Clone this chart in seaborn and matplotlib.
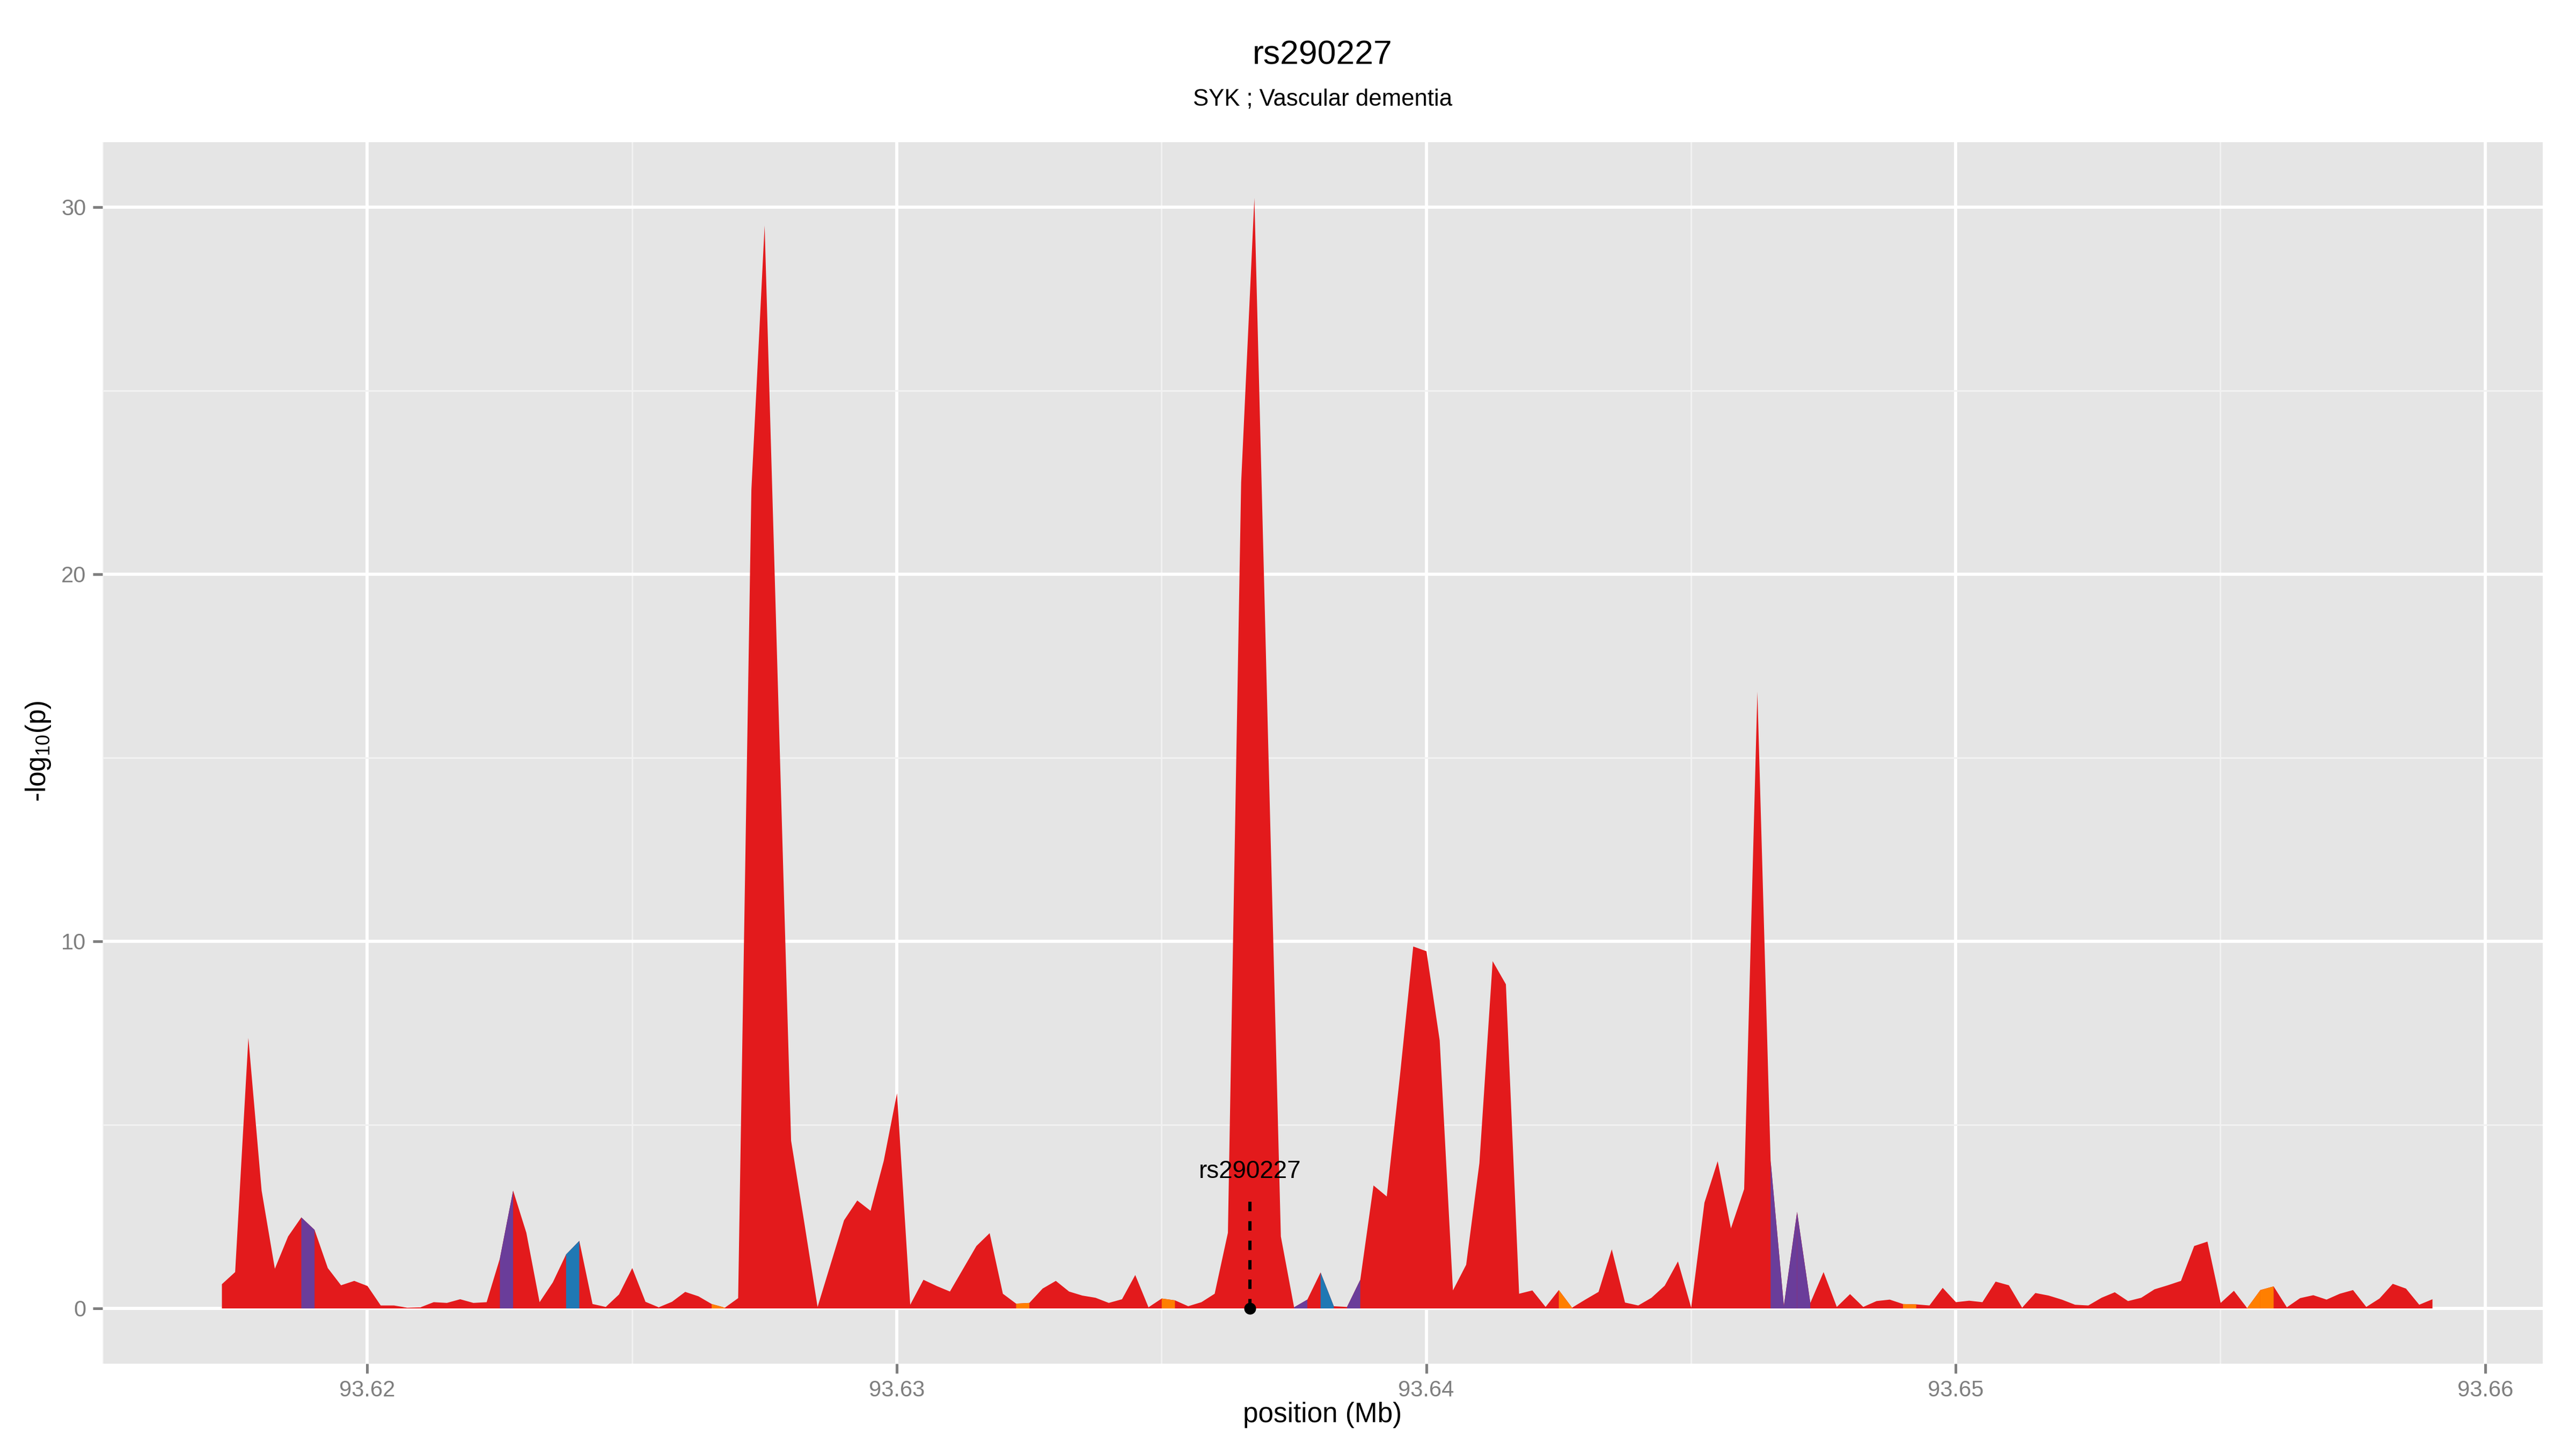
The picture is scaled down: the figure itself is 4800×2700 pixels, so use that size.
import numpy as np
import pandas as pd
import matplotlib
matplotlib.use("Agg")
import matplotlib.pyplot as plt
import seaborn as sns

# ---------------- data ----------------
positions_bp = [
    93617250, 93617500, 93617750,
    93618000, 93618250, 93618500, 93618750,
    93619000, 93619250, 93619500, 93619750,
    93620000, 93620250, 93620500, 93620750,
    93621000, 93621250, 93621500, 93621750,
    93622000, 93622250, 93622500, 93622750,
    93623000, 93623250, 93623500, 93623750,
    93624000, 93624250, 93624500, 93624750,
    93625000, 93625250, 93625500, 93625750,
    93626000, 93626250, 93626500, 93626750,
    93627000, 93627250, 93627500, 93627750,
    93628000, 93628250, 93628500, 93628750,
    93629000, 93629250, 93629500, 93629750,
    93630000, 93630250, 93630500, 93630750,
    93631000, 93631250, 93631500, 93631750,
    93632000, 93632250, 93632500, 93632750,
    93633000, 93633250, 93633500, 93633750,
    93634000, 93634250, 93634500, 93634750,
    93635000, 93635250, 93635500, 93635750,
    93636000, 93636250, 93636500, 93636750,
    93637000, 93637250, 93637500, 93637750,
    93638000, 93638250, 93638500, 93638750,
    93639000, 93639250, 93639500, 93639750,
    93640000, 93640250, 93640500, 93640750,
    93641000, 93641250, 93641500, 93641750,
    93642000, 93642250, 93642500, 93642750,
    93643000, 93643250, 93643500, 93643750,
    93644000, 93644250, 93644500, 93644750,
    93645000, 93645250, 93645500, 93645750,
    93646000, 93646250, 93646500, 93646750,
    93647000, 93647250, 93647500, 93647750,
    93648000, 93648250, 93648500, 93648750,
    93649000, 93649250, 93649500, 93649750,
    93650000, 93650250, 93650500, 93650750,
    93651000, 93651250, 93651500, 93651750,
    93652000, 93652250, 93652500, 93652750,
    93653000, 93653250, 93653500, 93653750,
    93654000, 93654250, 93654500, 93654750,
    93655000, 93655250, 93655500, 93655750,
    93656000, 93656250, 93656500, 93656750,
    93657000, 93657250, 93657500, 93657750,
    93658000, 93658250, 93658500, 93658750,
    93659000,
]

neglog10p = [
    0.66, 0.99, 7.37, 3.21, 1.08, 1.96, 2.48, 2.14, 1.10, 0.63,
    0.75, 0.61, 0.08, 0.08, 0.02, 0.03, 0.17, 0.15, 0.25, 0.15,
    0.17, 1.36, 3.21, 2.06, 0.17, 0.71, 1.47, 1.84, 0.12, 0.04,
    0.38, 1.10, 0.18, 0.03, 0.18, 0.45, 0.33, 0.12, 0.02, 0.28,
    22.3, 29.5, 17.0, 4.57, 2.33, 0.04, 1.22, 2.40, 2.94, 2.66,
    4.02, 5.86, 0.10, 0.78, 0.61, 0.46, 1.08, 1.70, 2.05, 0.40,
    0.13, 0.15, 0.54, 0.75, 0.46, 0.35, 0.29, 0.15, 0.25, 0.91,
    0.03, 0.27, 0.22, 0.06, 0.17, 0.40, 2.06, 22.5, 30.25, 16.0,
    1.96, 0.03, 0.24, 0.98, 0.06, 0.04, 0.78, 3.35, 3.05, 6.35,
    9.86, 9.73, 7.30, 0.49, 1.19, 3.96, 9.46, 8.83, 0.40, 0.49,
    0.04, 0.50, 0.02, 0.24, 0.45, 1.61, 0.16, 0.08, 0.29, 0.62,
    1.28, 0.02, 2.88, 4.01, 2.18, 3.25, 16.8, 4.02, 0.07, 2.63,
    0.15, 0.99, 0.04, 0.39, 0.04, 0.20, 0.24, 0.12, 0.11, 0.08,
    0.56, 0.17, 0.21, 0.17, 0.73, 0.63, 0.02, 0.42, 0.35, 0.24,
    0.10, 0.08, 0.29, 0.44, 0.20, 0.29, 0.52, 0.63, 0.75, 1.70,
    1.82, 0.15, 0.48, 0.01, 0.50, 0.60, 0.03, 0.28, 0.36, 0.24,
    0.40, 0.50, 0.04, 0.27, 0.67, 0.54, 0.10, 0.25,
]

# segments (point k -> point k+1, 0-based k) that are not red
seg_index = [6, 21, 26, 37, 60, 71, 81, 83, 85, 101, 117, 118, 119, 127, 153, 154]
seg_class = ["purple", "purple", "blue", "orange", "orange", "orange", "purple",
             "blue", "purple", "orange", "purple", "purple", "purple", "orange",
             "orange", "orange"]

class_colors = {"red": "#E31A1C", "purple": "#6A3D9A",
                "blue": "#1F78B4", "orange": "#FF7F00"}

snp_name = "rs290227"
snp_pos_mb = 93.63667
snp_label_y = 3.54
snp_line_top = 3.02

title = "rs290227"
subtitle = "SYK ; Vascular dementia"
x_title = "position (Mb)"
y_title = r"-log$_{\mathregular{10}}$(p)"
x_ticks = [93.62, 93.63, 93.64, 93.65, 93.66]
x_ticklabels = ["93.62", "93.63", "93.64", "93.65", "93.66"]
y_ticks = [0, 10, 20, 30]
y_ticklabels = ["0", "10", "20", "30"]

assert len(positions_bp) == len(neglog10p)

df = pd.DataFrame({"pos": np.array(positions_bp) / 1e6, "logp": neglog10p})

# ---------------- style ----------------
sns.set_theme(style="darkgrid")
plt.rcParams["font.family"] = ["Liberation Sans", "DejaVu Sans"]
plt.rcParams["mathtext.fontset"] = "custom"
plt.rcParams["mathtext.rm"] = "Liberation Sans"
plt.rcParams["mathtext.it"] = "Liberation Sans"

fig = plt.figure(figsize=(16, 9), dpi=300)
ax = fig.add_axes([191 / 4800, 1 - 2541 / 2700, (4738 - 191) / 4800, (2541 - 265) / 2700])
ax.set_facecolor("#E5E5E5")
for s in ax.spines.values():
    s.set_visible(False)

# main red area then coloured segments on top
ax.fill_between(df["pos"], 0, df["logp"], color=class_colors["red"], lw=0, zorder=2)
for k, cls in zip(seg_index, seg_class):
    sub = df.iloc[k:k + 2]
    ax.fill_between(sub["pos"], 0, sub["logp"], color=class_colors[cls], lw=0, zorder=3)

# SNP marker
ax.plot([snp_pos_mb, snp_pos_mb], [0, snp_line_top], color="black", lw=1.45,
        linestyle=(0, (2.9, 3.1)), zorder=5, solid_capstyle="butt")
sns.scatterplot(x=[snp_pos_mb], y=[0], color="black", s=28, linewidth=0, ax=ax, zorder=6,
                legend=False)
ax.text(snp_pos_mb, snp_label_y, snp_name, ha="center", va="baseline", fontsize=11,
        color="black", zorder=7)

# scales (5% expansion like ggplot)
xmin, xmax = df["pos"].min(), df["pos"].max()
xr = xmax - xmin
ymax = df["logp"].max()
ax.set_xlim(xmin - 0.05 * xr, xmax + 0.05 * xr)
ax.set_ylim(-0.05 * ymax, ymax * 1.05)

ax.set_xticks(x_ticks)
ax.set_xticklabels(x_ticklabels)
ax.set_yticks(y_ticks)
ax.set_yticklabels(y_ticklabels)
ax.set_xticks([93.615, 93.625, 93.635, 93.645, 93.655], minor=True)
ax.set_yticks([5, 15, 25], minor=True)

ax.grid(which="major", color="white", lw=1.42, zorder=0)
ax.grid(which="minor", color="#F2F2F2", lw=0.71, zorder=0)
ax.set_axisbelow(True)

ax.tick_params(axis="both", which="major", length=4.3, width=1.2, color="#7F7F7F",
               labelcolor="#7F7F7F", labelsize=10, direction="out")
ax.tick_params(axis="x", which="major", pad=2.8, bottom=True)
ax.tick_params(axis="y", which="major", pad=3.0, left=True)
ax.tick_params(which="minor", length=0)

ax.set_xlabel("")
ax.set_ylabel("")

cx = (191 + 4738) / 2 / 4800
fig.text(cx, 1 - 120 / 2700, title, ha="center", va="baseline", fontsize=15, color="black")
fig.text(cx, 1 - 196 / 2700, subtitle, ha="center", va="baseline", fontsize=10.5, color="black")
fig.text(cx, 1 - 2650 / 2700, x_title, ha="center", va="baseline", fontsize=12.3, color="black")
fig.text(72 / 4800, 1 - 1400 / 2700, y_title, ha="center", va="center", rotation=90,
         fontsize=12.3, color="black")

fig.savefig("out.png", dpi=300, facecolor="white")
